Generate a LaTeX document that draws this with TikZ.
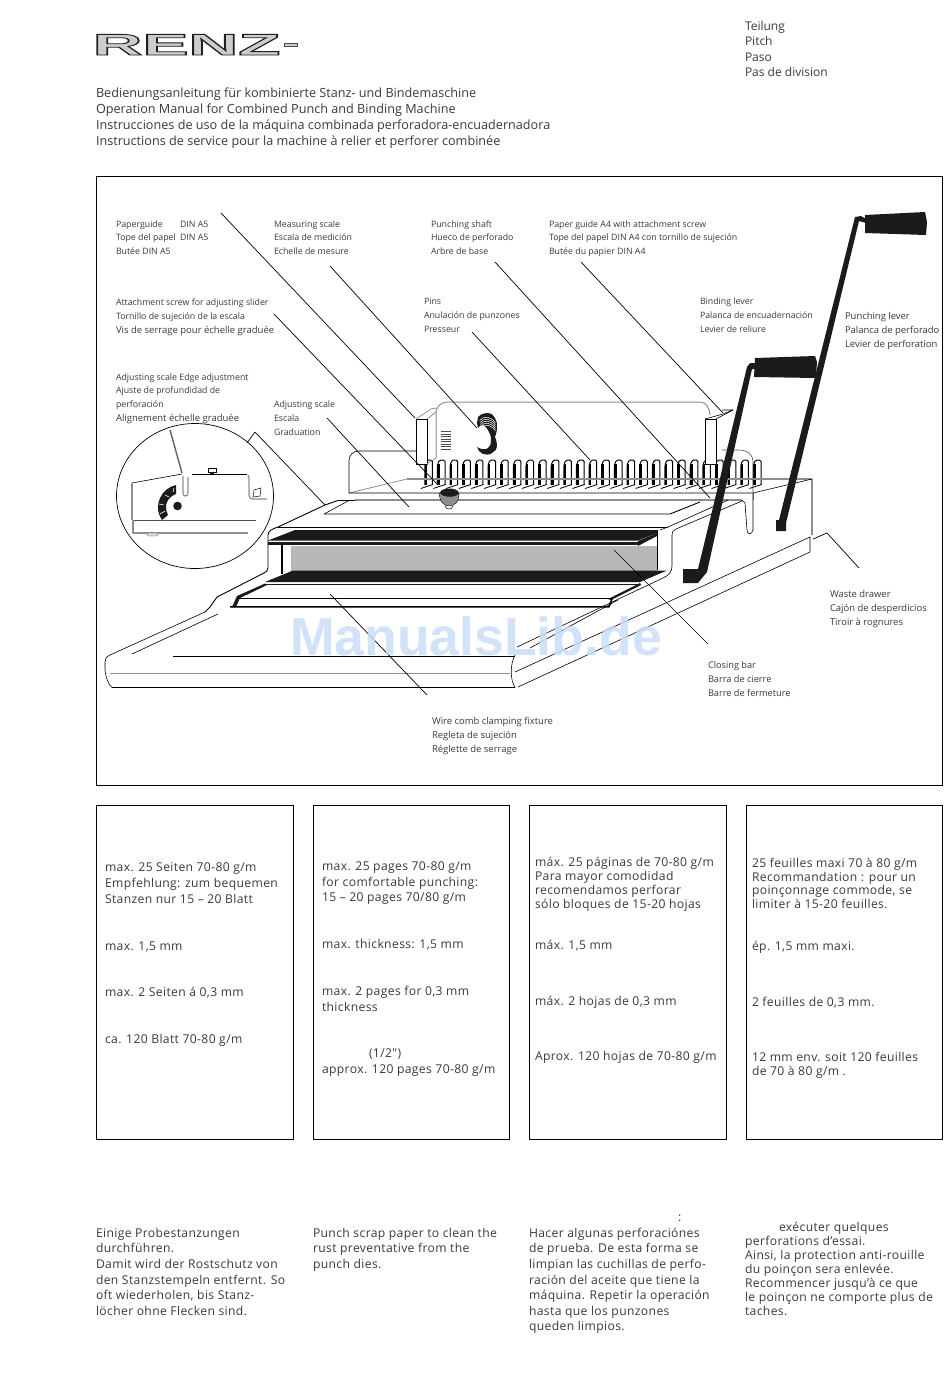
\documentclass[tikz,border=0pt]{standalone}
\usepackage{fontspec}
\usepackage{graphicx}
\setmainfont{Open Sans}
\newfontfamily\logofont{Liberation Sans}
\newfontfamily\bodyf[LetterSpace=3]{Open Sans}
\usetikzlibrary{calc}
\definecolor{ink}{HTML}{3A3A3A}
\definecolor{mach}{HTML}{1C1A1B}
\definecolor{gline}{HTML}{8E8E8E}
\definecolor{gpanel}{HTML}{B6B7B9}
\definecolor{wm}{HTML}{C9DEF8}
\tikzset{
  txt/.style={inner sep=0pt,outer sep=0pt,anchor=north west,align=left,text=ink},
  frameb/.style={draw=black,line width=0.8pt},
  leader/.style={draw=black,line width=0.7pt},
  mline/.style={draw=black,line width=0.9pt,line join=round},
  thin line/.style={draw=black,line width=0.6pt,line join=round},
  gl/.style={draw=gline,line width=1.2pt,line join=round},
  solid black/.style={fill=mach,draw=none},
}
% font, name, x, first-line centre y, line pitch, font size, text
\newcommand\blkf[7]{\node[txt,font=#1\fontsize{#6}{#5}\selectfont] (#2) at (#3,{#4-0.7*#5+0.36*#6}) {\strut #7};}
\newcommand\blk[6]{\blkf{}{#1}{#2}{#3}{#4}{#5}{#6}}
\newcommand\lab[5]{\blk{#1}{#2}{#3}{#4}{8.8}{#5}}
\newcommand\labw[5]{\blk{#1}{#2}{#3}{#4}{9.45}{#5}}
\newcommand\body[5]{\blkf{\bodyf}{#1}{#2}{#3}{#4}{12.15}{#5}}
\begin{document}
\begin{tikzpicture}[x=1pt,y=-1pt]
\useasboundingbox (0,0) rectangle (950,1379);
\fill[white] (0,0) rectangle (950,1379);
% logo
\node[inner sep=0pt,anchor=base west,text=black!20,font=\logofont\bfseries\fontsize{30}{30}\selectfont] (logo) at (92.5,55) {\special{pdf:code 0.12 G 2 Tr 0.8 w}\scalebox{2.3}[1]{RENZ}\special{pdf:code 0 Tr}};
\path[fill=black!20,draw=black!70,line width=0.7pt] (284,43) rectangle (297,46);
% header
\blk{pitch}{745}{26}{15.4}{12}{Teilung\\Pitch\\Paso\\Pas de division}
\blk{title}{96}{93}{16}{12.65}{Bedienungsanleitung für kombinierte Stanz- und Bindemaschine\\Operation Manual for Combined Punch and Binding Machine\\Instrucciones de uso de la máquina combinada perforadora-encuadernadora\\Instructions de service pour la machine à relier et perforer combinée}
% frames
\draw[frameb] (96.5,176) rectangle (942,785);
\draw[frameb] (96.5,805.5) rectangle (293.5,1139);
\draw[frameb] (313,805.5) rectangle (509,1139);
\draw[frameb] (529,805.5) rectangle (726,1139);
\draw[frameb] (746,805.5) rectangle (942,1139);
% labels
\lab{l1}{116}{224}{13.5}{\makebox[64pt][l]{Paperguide}DIN A5\\\makebox[64pt][l]{Tope del papel}DIN A5\\Butée DIN A5}
\lab{l2}{274}{224}{13.5}{Measuring scale\\Escala de medición\\Echelle de mesure}
\lab{l3}{431}{224}{13.5}{Punching shaft\\Hueco de perforado\\Arbre de base}
\lab{l4}{549}{224}{13.5}{Paper guide A4 with attachment screw\\Tope del papel DIN A4 con tornillo de sujeción\\Butée du papier DIN A4}
\lab{l5}{116}{302}{14}{Attachment screw for adjusting slider\\Tornillo de sujeción de la escala\\{\fontsize{9.5}{14}\selectfont Vis de serrage pour échelle graduée}}
\lab{l6}{424}{301.5}{14}{Pins\\Anulación de punzones\\Presseur}
\lab{l7}{700}{301.5}{14}{Binding lever\\Palanca de encuadernación\\Levier de reliure}
\labw{l8}{845}{316.5}{14}{Punching lever\\Palanca de perforado\\Levier de perforation}
\lab{l9}{116}{377}{13.7}{Adjusting scale Edge adjustment\\Ajuste de profundidad de\\perforación\\{\fontsize{9.5}{13.7}\selectfont Alignement échelle graduée}}
\lab{l10}{274}{404}{14}{Adjusting scale\\Escala\\Graduation}
\labw{l11}{830}{594}{14}{Waste drawer\\Cajón de desperdicios\\Tiroir à rognures}
\blk{l12}{708}{665}{14}{9.2}{Closing bar\\Barra de cierre\\Barre de fermeture}
\labw{l13}{432}{721}{14}{Wire comb clamping fixture\\Regleta de sujeción\\Réglette de serrage}
% panels
\body{p1a}{105}{867}{16}{max. 25 Seiten 70-80 g/m\\Empfehlung: zum bequemen\\Stanzen nur 15 – 20 Blatt}
\body{p1b}{105}{946}{16}{max. 1,5 mm}
\body{p1c}{105}{992}{16}{max. 2 Seiten á 0,3 mm}
\body{p1d}{105}{1039}{16}{ca. 120 Blatt 70-80 g/m}
\body{p2a}{322}{866}{15.7}{max. 25 pages 70-80 g/m\\for comfortable punching:\\15 – 20 pages 70/80 g/m}
\body{p2b}{322}{944}{16}{max. thickness: 1,5 mm}
\body{p2c}{322}{991}{16}{max. 2 pages for 0,3 mm\\thickness}
\body{p2d}{369}{1053}{16}{(1/2\char"22)}
\body{p2e}{322}{1069}{16}{approx. 120 pages 70-80 g/m}
\body{p3a}{535}{862}{14}{máx. 25 páginas de 70-80 g/m\\Para mayor comodidad\\recomendamos perforar\\sólo bloques de 15-20 hojas}
\body{p3b}{535}{945}{16}{máx. 1,5 mm}
\body{p3c}{535}{1001}{16}{máx. 2 hojas de 0,3 mm}
\body{p3d}{535}{1056}{16}{Aprox. 120 hojas de 70-80 g/m}
\body{p4a}{752}{863}{13.7}{25 feuilles maxi 70 à 80 g/m\\Recommandation : pour un\\poinçonnage commode, se\\limiter à 15-20 feuilles.}
\body{p4b}{752}{946}{16}{ép. 1,5 mm maxi.}
\body{p4c}{752}{1002}{16}{2 feuilles de 0,3 mm.}
\body{p4d}{752}{1057}{14}{12 mm env. soit 120 feuilles\\de 70 à 80 g/m .}
\body{c1}{96}{1233}{15.6}{Einige Probestanzungen\\durchführen.\\Damit wird der Rostschutz von\\den Stanzstempeln entfernt. So\\oft wiederholen, bis Stanz-\\löcher ohne Flecken sind.}
\body{c2}{313}{1233}{15.5}{Punch scrap paper to clean the\\rust preventative from the\\punch dies.}
\body{c3x}{678}{1217}{15.5}{:}
\body{c3}{529}{1233}{15.6}{Hacer algunas perforaciónes\\de prueba. De esta forma se\\limpian las cuchillas de perfo-\\ración del aceite que tiene la\\máquina. Repetir la operación\\hasta que los punzones\\queden limpios.}
\body{c4x}{779}{1227}{14}{exécuter quelques}
\body{c4}{745}{1241}{14}{perforations d’essai.\\Ainsi, la protection anti-rouille\\du poinçon sera enlevée.\\Recommencer jusqu’à ce que\\le poinçon ne comporte plus de\\taches.}
% ---------- machine ----------
% back plate and left bump
\draw[gline,line width=1pt] (436,458) -- (436,414) .. controls (436,406) and (441,402) .. (449,402) -- (700,402) .. controls (706,402) and (710,408) .. (710,415);
\draw[thin line] (349,493) -- (349,461) .. controls (349,455) and (353,451) .. (359,451) -- (416,451);
\draw[gline,line width=0.8pt] (349,493) -- (407,479);
% teeth
\foreach \i in {0,...,26}{
  \pgfmathsetmacro\xx{424.8+12.64*\i}
  \draw[white,fill=white] (\xx,461) rectangle (\xx+8,485);
  \draw[black,line width=1pt,rounded corners=1.5pt] (\xx+7.6,485) -- (\xx+7.6,460) -- (\xx+2,460) -- (\xx,465) -- (\xx,485);
  \draw[black,line width=2.6pt] (\xx+1,464) -- (\xx+1,485);
  \draw[black,line width=0.8pt] (\xx+8,484.5) -- (\xx-4,488.5);
}
% gray long lines
\draw[gl,line width=1.4pt] (407,479) -- (812,479);
\draw[gl] (812,479) -- (812,535);
\draw[thin line] (349,493) -- (753,493) -- (812,479);
\draw[gline,line width=0.9pt] (753,493) -- (753,500);
% right bump
\draw[thin line,draw=black!70] (722,450) -- (738,450) .. controls (747,450) and (753,454) .. (753,462) -- (753,493);
% brackets
\draw[draw=none,fill=white] (416,419) rectangle (427,464);
\draw[thin line,line width=0.9pt] (416,419) rectangle (427,464);
\draw[gline,line width=0.8pt] (427,419) -- (436,412);
\draw[gline,line width=0.8pt] (416,419) -- (431,409) -- (436,408);
\draw[gline,line width=0.8pt] (427,464) -- (436,458);
\draw[draw=none,fill=white] (705,419) rectangle (716,464);
\draw[thin line,line width=0.9pt] (705,419) rectangle (716,464);
\draw[thin line] (705,419) -- (723,414) -- (733,410) -- (722,410);
\draw[thin line] (716,419) -- (733,410);
% scale bars and hook
\foreach \yy in {431.5,434,436.5,439,441.5,444,446.5,449}{\draw[black!70,line width=0.6pt] (440.5,\yy) -- (451,\yy);}
\path[fill=mach] (477,423) -- (478,417) .. controls (481,414) and (484,413) .. (487,413) .. controls (491,413) and (494,415) .. (495,418) .. controls (497,421) and (497,424) .. (497,427) .. controls (497,431) and (496,434) .. (495,437) .. controls (496,440) and (497,442) .. (497,445) .. controls (497,449) and (495,452) .. (492,453) .. controls (489,455) and (486,455) .. (483,454) .. controls (480,453) and (478,450) .. (477,447) .. controls (479,448) and (480,449) .. (482,449) .. controls (485,450) and (487,449) .. (488,448) .. controls (491,445) and (491,443) .. (491,440) .. controls (491,436) and (490,433) .. (488,430) .. controls (486,427) and (485,426) .. (483,425) .. controls (481,425) and (479,426) .. (478,428) -- cycle;
\foreach \k in {0,1,2,3,4}{\draw[white,line width=0.5pt] ($(479.5+0.4*\k,420.5+2*\k)$) .. controls ($(484,415.5+2*\k)$) and ($(491,416+2*\k)$) .. ($(495.5,423+2*\k)$);}
% main top surface
\draw[mline] (278,527) -- (325,505) -- (338,500.5) -- (620,500.5);
\draw[gl,line width=1.5pt] (355,500) -- (742,500);
\draw[mline] (324,514) -- (670,514) -- (700,502);
\draw[thin line] (324,514) -- (348,501);
% right body
\draw[thin line] (668,527) -- (728,500);
\draw[thin line] (660,530) -- (668,527);
\draw[thin line] (742,500) -- (745,503) -- (747,530) .. controls (747,535) and (752,535) .. (753,530) -- (753,493);
\draw[thin line] (742,501) -- (676,529) .. controls (673,530) and (672,532) .. (672,535) -- (672,566) .. controls (672,572) and (669,575) .. (663,578) -- (517,647);
\draw[thin line] (618,600) -- (530,648);
\draw[thin line] (515,672) -- (810,537) -- (810,552) -- (518,687);
% cavity
\draw[mline] (278,527) -- (668,527);
\fill[gpanel] (291,546) rectangle (657,571);
\path[solid black] (295,530) -- (657,530) -- (657,533) -- (638,540.5) -- (268,540.5) -- cycle;
\fill[mach] (268,542.3) rectangle (640,545.3);
\path[fill=mach] (638,546) -- (657,536) -- (657,533) -- (638,541) -- cycle;
\draw[mline,line width=1pt] (657,530) -- (657,570);
\draw[mline,line width=1.6pt] (282,545) -- (282,574);
\draw[mline] (268,540) -- (268,568) .. controls (268,571) and (266,572) .. (264,573) -- (217,597) -- (210,607) -- (205,612);
\draw[mline] (268,540) -- (268,535) .. controls (268,531) and (272,529) .. (278,527);
\path[solid black] (293,570.5) -- (667,570.5) -- (640,582) -- (265,582) -- cycle;
\fill[mach] (265,583.5) rectangle (640,585.3);
\path[fill=mach] (265,583.5) -- (237,596) -- (232,607) -- (236,607) -- (240,598) -- (267,585) -- cycle;
\path[fill=mach] (640,583) -- (608,599) -- (611,600) -- (641,585) -- cycle;
\draw[mline] (238,598) -- (612,598);
\draw[mline,line width=1.6pt] (230,606.8) -- (609,606.8) -- (612,599);
% base
\draw[thin line] (132,654) -- (218,614);
\draw[thin line] (205,612) -- (110,655) .. controls (106,657) and (105,659) .. (105,662) -- (105,670) .. controls (106,678) and (108,684) .. (112,687.5) -- (515,687.5) .. controls (510,680) and (510,664) .. (515,655);
\draw[thin line] (173,656) -- (515,656);
\draw[gline,line width=1pt] (110,673) -- (510,673);
% knob
\path[fill=gline,draw=black,line width=0.4pt] (439,493) .. controls (440,503) and (445,506) .. (449,506) .. controls (454,506) and (459,503) .. (459,493) -- cycle;
\draw[black,line width=0.5pt] (445,506) .. controls (446,510) and (452,510) .. (453,506);
\path[fill=mach] (440,493) .. controls (440,487) and (458,487) .. (459,493) .. controls (456,498) and (443,498) .. (440,493) -- cycle;
% levers
\path[fill=mach] (683,569) -- (698,569) -- (747,367) -- (750,363) -- (755,363) -- (755,369) -- (752,369) -- (707,572) -- (698,583) -- (683,583) -- cycle;
\path[fill=mach] (755,358) -- (815,356) -- (817,362) -- (816,378) -- (754,377) -- cycle;
\path[fill=mach] (776,520) -- (779,520) -- (855,217) -- (861,216) -- (866,219) -- (866,223) -- (859,221) -- (786,523) -- (786,531) -- (776,531) -- cycle;
\path[fill=mach] (865,215) -- (925,212) -- (927,222) -- (926,235) -- (865,233) -- cycle;
% inset
\draw[black,line width=0.7pt] (195,496) ellipse [x radius=78.5, y radius=72.5];
\draw[gline!70!black,line width=1.4pt] (170,430) -- (182,473);
\draw[thin line] (132,483) -- (182,474);
\draw[thin line] (192,474) -- (247,474);
\draw[gl] (132,483) -- (132,520);
\draw[gl] (183,476) -- (183,493) .. controls (183,497) and (188,497) .. (188,493) -- (188,477);
\draw[gl] (248,475) -- (249,477) -- (249,495) .. controls (249,498) and (250,499) .. (253,499) -- (267,499);
\draw[mline,draw=black!70,line width=1pt] (132,520) -- (256,520);
\draw[gl] (133,520) -- (133,533) -- (248,533);
\path[fill=black!15,draw=black!60,line width=0.4pt] (147,533) -- (158,533) -- (157,536) -- (148,536) -- cycle;
\path[fill=white,draw=black,line width=0.5pt] (208,468) rectangle (216,472);
\fill[mach] (210,472) rectangle (214,473.5);
\path[fill=white,draw=black,line width=0.5pt] (254,490) -- (261,488) -- (260,496) -- (253,497) -- cycle;
\path[fill=mach] (176,485) .. controls (162,488) and (152,505) .. (162,520) -- (168,515) .. controls (163,505) and (168,497) .. (176,494) -- cycle;
\foreach \a/\b/\c/\d in {174/488/173/492,165/495/169/497,159/504/164/505,160/514/165/511}{\draw[white,line width=0.6pt] (\a,\b) -- (\c,\d);}
\fill[mach] (177.5,506) circle (4.3);
% leader end points
\coordinate (a1) at (221,213); \coordinate (a2) at (415,418);
\coordinate (b1) at (330,266); \coordinate (b2) at (477,428);
\coordinate (c1) at (274,314); \coordinate (c2) at (438,485);
\coordinate (d1) at (327,418); \coordinate (d2) at (409,507);
\coordinate (e1) at (255,432); \coordinate (e2) at (325,505); \coordinate (e3) at (247,443);
\coordinate (f1) at (472,332); \coordinate (f2) at (590,460);
\coordinate (g1) at (495,262); \coordinate (g2) at (710,498);
\coordinate (h1) at (581,262); \coordinate (h2) at (723,413);
\coordinate (i1) at (813,539); \coordinate (i2) at (827,533); \coordinate (i3) at (859,568);
\coordinate (j1) at (614,550); \coordinate (j2) at (708,644);
\coordinate (k1) at (330,594); \coordinate (k2) at (427,695);
\draw[leader] (a1) -- (a2);
\draw[leader] (b1) -- (b2);
\draw[leader] (c1) -- (c2);
\draw[leader] (d1) -- (d2);
\draw[leader] (e1) -- (e2);
\draw[leader] (e3) -- (e1);
\draw[leader] (f1) -- (f2);
\draw[leader] (g1) -- (g2);
\draw[leader] (h1) -- (h2);
\draw[leader] (i1) -- (i2) -- (i3);
\draw[leader] (j1) -- (j2);
\draw[leader] (k1) -- (k2);
% watermark
\node[inner sep=0pt,anchor=base west,text=wm,opacity=0.85,font=\logofont\bfseries\fontsize{53.5}{60}\selectfont] (wmk) at (290,655) {ManualsLib.de};
\end{tikzpicture}
\end{document}
